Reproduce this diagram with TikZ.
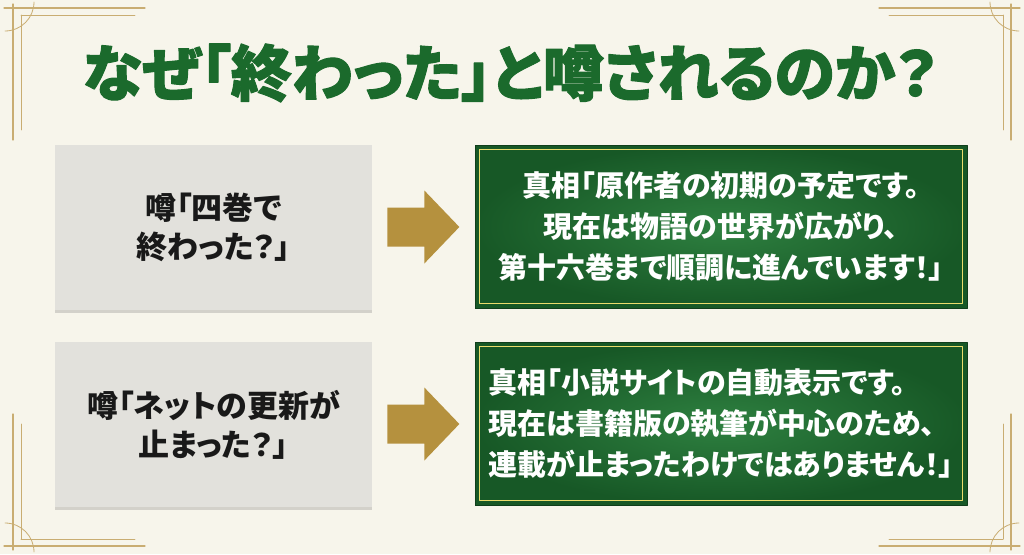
\documentclass[tikz,border=0pt]{standalone}
\usepackage{fontspec}
\setmainfont{Noto Sans CJK JP}[RawFeature=+palt]
\newfontfamily\titlefont{Noto Sans CJK JP}[RawFeature=+palt,BoldFeatures={FakeBold=1.6}]
\usetikzlibrary{calc,shadows}
\definecolor{paper}{HTML}{F7F5EB}
\definecolor{gold}{HTML}{B5913E}
\definecolor{framegold}{HTML}{C9AD72}
\definecolor{titlegreen}{HTML}{1B6A2C}
\definecolor{boardgreen}{HTML}{2E8040}
\definecolor{boarddark}{HTML}{175826}
\definecolor{rumorgrey}{HTML}{E2E1DC}
\begin{document}
\begin{tikzpicture}[x=1pt,y=-1pt,line join=round,line cap=round,
	rumor/.style={fill=rumorgrey,minimum width=317pt,minimum height=165pt,align=center,
		text=black!90,font=\bfseries\fontsize{31}{39}\selectfont,
		drop shadow={shadow xshift=0pt,shadow yshift=-3pt,opacity=.3}},
	truth/.style={draw=boarddark!70!black,line width=1pt,inner color=boardgreen,outer color=boarddark,
		minimum width=492pt,minimum height=163pt,align=center,text=white,
		font=\bfseries\fontsize{29}{41}\selectfont},
	frame/.style={draw=framegold,line width=1.2pt}]
			\path (0,0) coordinate (NW) (1024,554) coordinate (SE);
			\fill[paper] (NW) rectangle (SE);
			\useasboundingbox (NW) rectangle (SE);
			% gold corners
			\foreach \sx/\sy/\cx/\cy in {1/1/0/0,-1/1/1024/0,1/-1/0/554,-1/-1/1024/554}
			{\begin{scope}[shift={(\cx,\cy)},xscale=\sx,yscale=\sy]
				\draw[frame] (4,8)--(145,8) (13,4)--(13,140);
				\draw[frame,line width=.8pt] (21,15)--(135,15) (21,15)--(21,130);
				\draw[frame,line width=.8pt] (34,2) arc[start angle=0,end angle=90,radius=29];
			\end{scope}}
			\node[font=\titlefont\bfseries\fontsize{61}{66}\selectfont,text=titlegreen] (title) at (510,73) {なぜ「終わった」と噂されるのか？};
			\node[rumor] (r1) at (213.5,227.5) {噂「四巻で\\終わった？」};
			\node[rumor] (r2) at (213.5,424.5) {噂「ネットの更新が\\止まった？」};
			\node[truth] (t1) at (721,226.5) {真相「原作者の初期の予定です。\\現在は物語の世界が広がり、\\第十六巻まで順調に進んでいます！」};
			\node[truth,align=left] (t2) at (721,423.5) {真相「小説サイトの自動表示です。\\現在は書籍版の執筆が中心のため、\\連載が止まったわけではありません！」};
			\foreach \n in {1,2}
			{\draw[yellow!50!framegold!80!white,line width=.8pt] ($(t\n.north west)+(5,5)$) rectangle ($(t\n.south east)+(-5,-5)$);
			\path ($(r\n.east)!.5!(t\n.west)$) coordinate (a\n);
			\fill[gold] ($(a\n)+(-36,-19.5)$) -- ++(37,0) -- ++(0,-17) -- ($(a\n)+(36,0)$) -- ($(a\n)+(1,36.5)$) -- ++(0,-17) -- ($(a\n)+(-36,19.5)$) -- cycle;
			}
\end{tikzpicture}
\end{document}
